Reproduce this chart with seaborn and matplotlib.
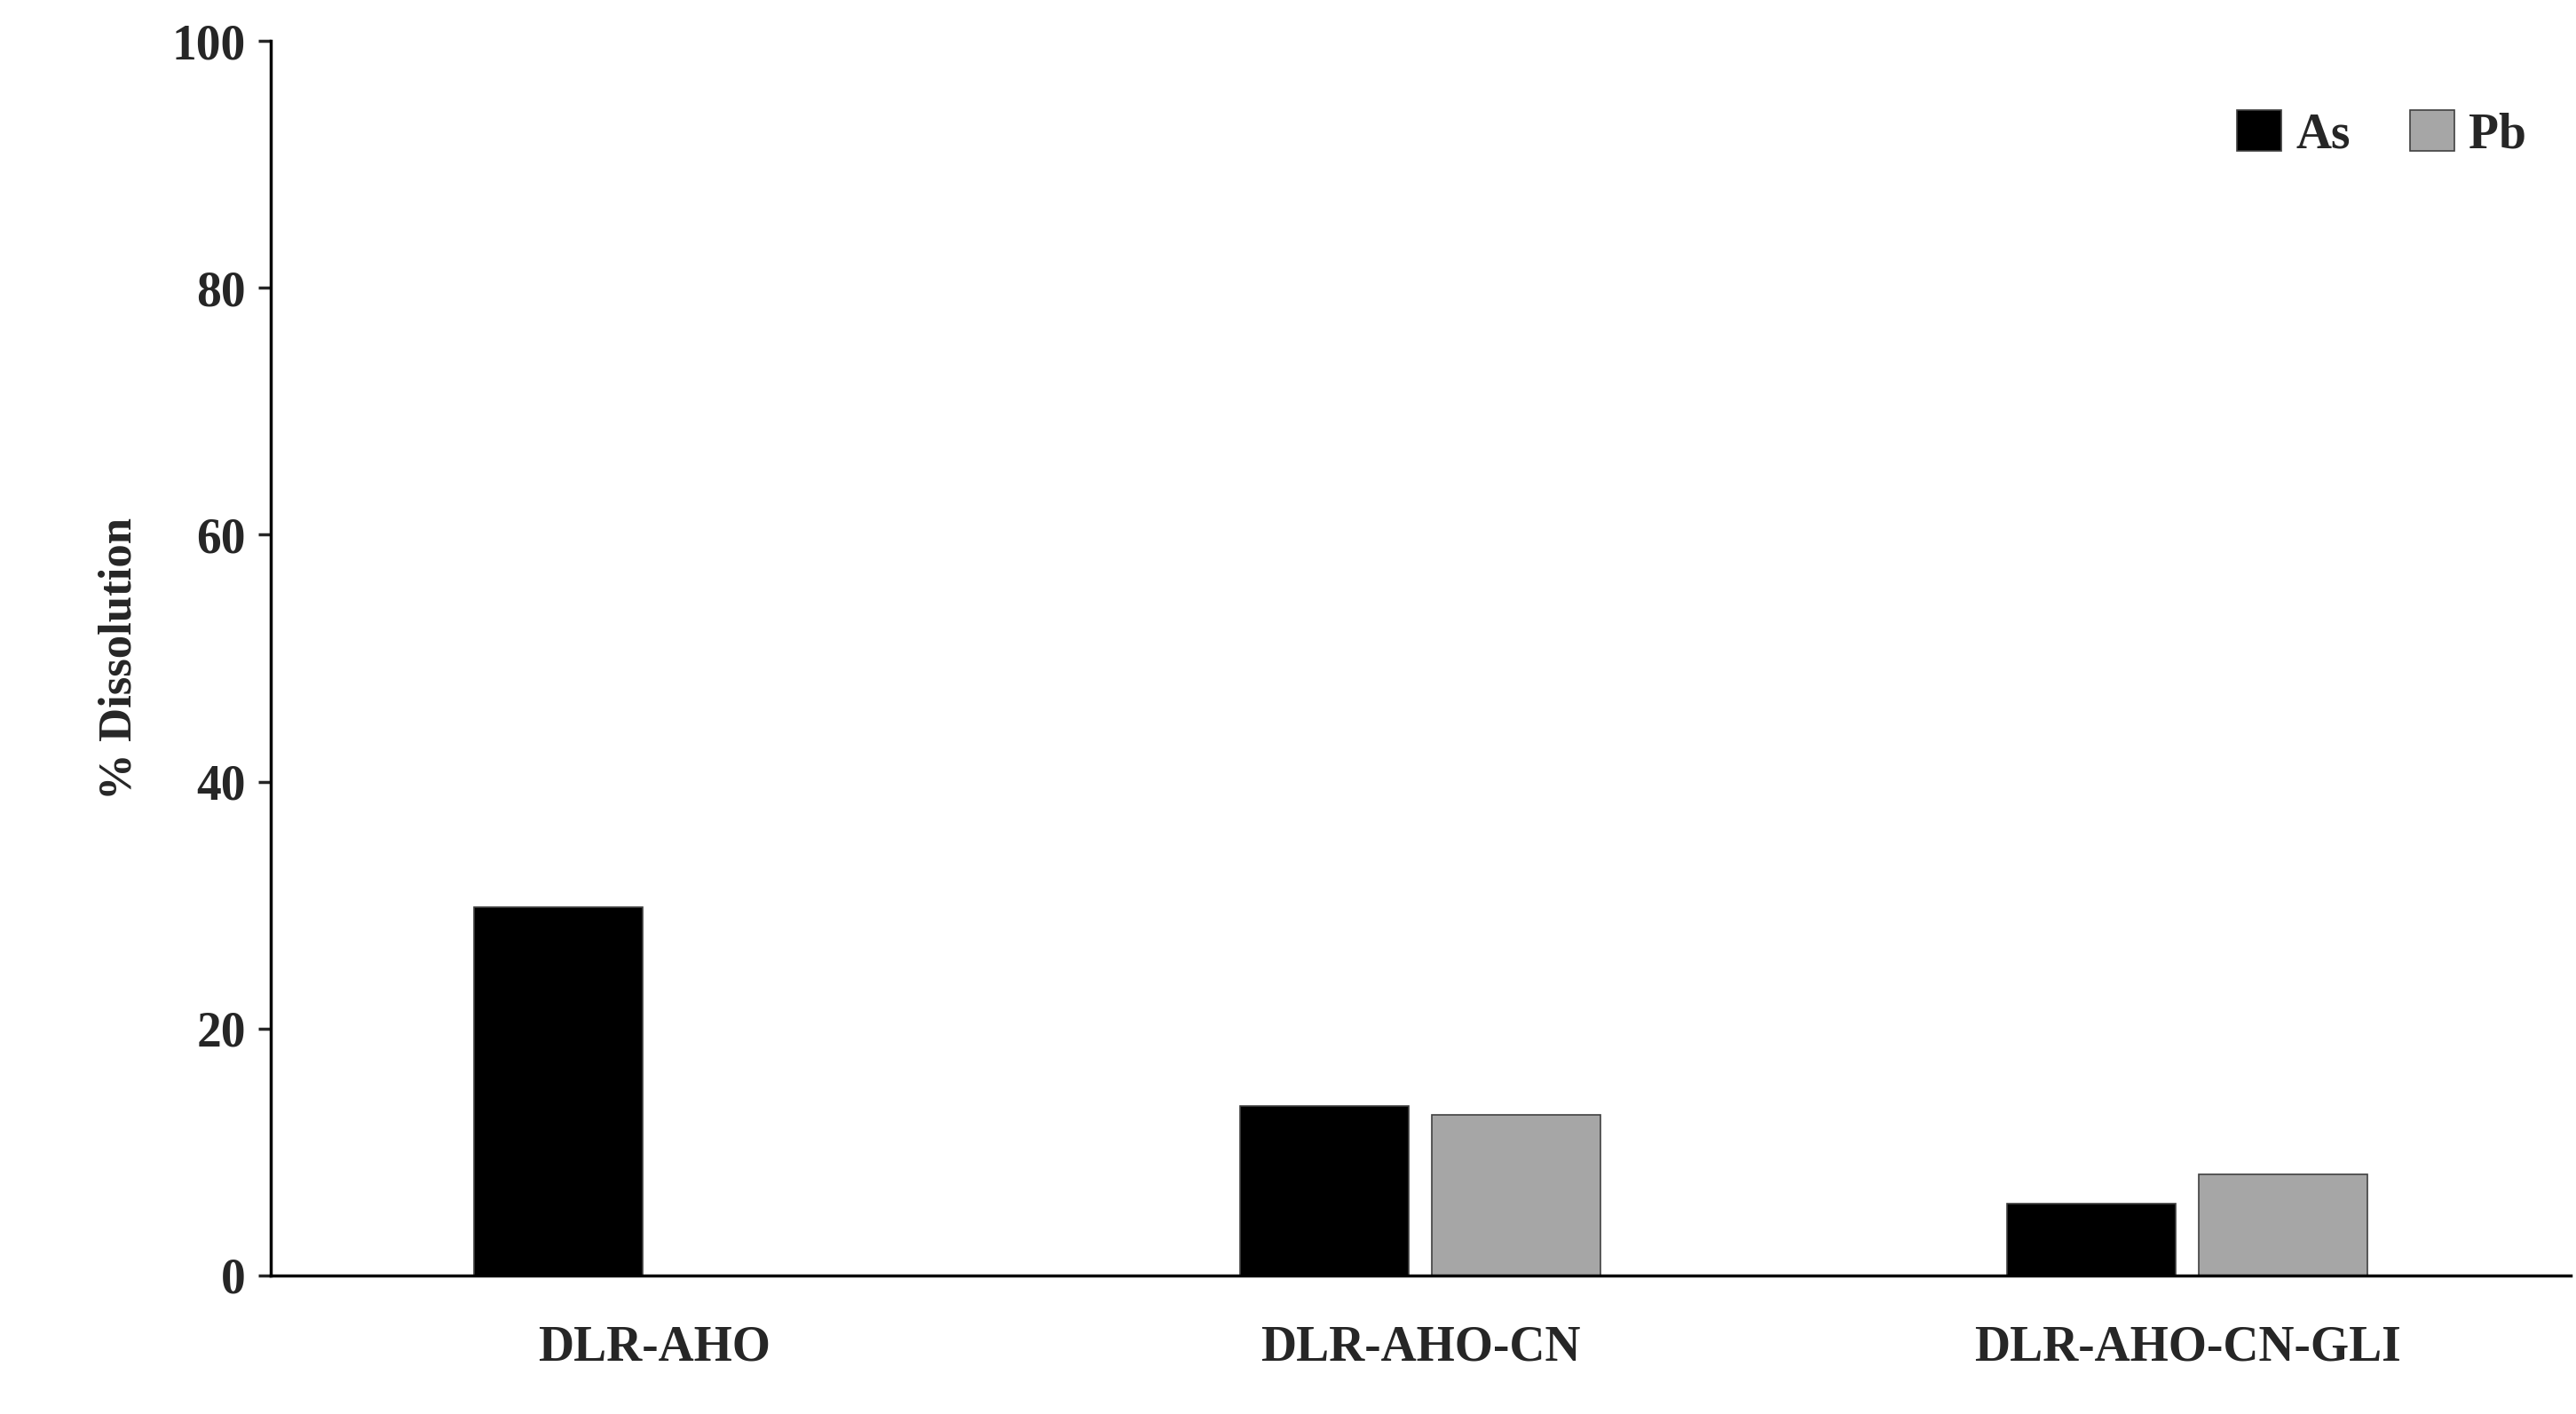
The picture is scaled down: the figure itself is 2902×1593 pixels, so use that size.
import matplotlib
matplotlib.use("Agg")
import matplotlib.pyplot as plt
import seaborn as sns
import pandas as pd

categories = ["DLR-AHO", "DLR-AHO-CN", "DLR-AHO-CN-GLI"]
as_values = [29.8, 13.7, 5.8]
pb_values = [0.0, 13.0, 8.2]

df = pd.DataFrame({
    "cat": categories * 2,
    "metal": ["As"] * 3 + ["Pb"] * 3,
    "val": as_values + pb_values,
})

sns.set_theme(style="white")
plt.rcParams['font.family'] = ['Liberation Serif', 'DejaVu Serif']
plt.rcParams['font.weight'] = 'bold'

fig = plt.figure(figsize=(29.02, 15.93), dpi=100)
ax = fig.add_axes([0.105, 0.098, 0.893, 0.873])
sns.barplot(data=df, x="cat", y="val", hue="metal", palette=["#000000", "#a6a6a6"],
            width=0.5, gap=0.12, ax=ax, edgecolor="#404040", linewidth=1.2, errorbar=None)
ax.set_ylim(0, 100)
ax.set_yticks([0, 20, 40, 60, 80, 100])
ax.set_xlim(-0.5, 2.5)
ax.set_xlabel("")
ax.set_ylabel("% Dissolution", fontsize=38, fontweight="bold", labelpad=25)
for s in ["top", "right"]:
    ax.spines[s].set_visible(False)
for s in ["left", "bottom"]:
    ax.spines[s].set_color("black")
    ax.spines[s].set_linewidth(2.5)
ax.tick_params(axis="y", direction="out", length=10, width=2.5, left=True, labelsize=40, pad=10)
ax.tick_params(axis="x", length=0, labelsize=40, pad=40)
for t in ax.get_xticklabels() + ax.get_yticklabels():
    t.set_fontweight("bold")
leg = ax.legend(loc="upper right", frameon=False, ncol=2, fontsize=40,
                handlelength=0.9, handleheight=0.9, handletextpad=0.3, columnspacing=1.2,
                bbox_to_anchor=(1.0, 0.98))
for t in leg.get_texts():
    t.set_fontweight("bold")
fig.savefig("out.png", dpi=100)
